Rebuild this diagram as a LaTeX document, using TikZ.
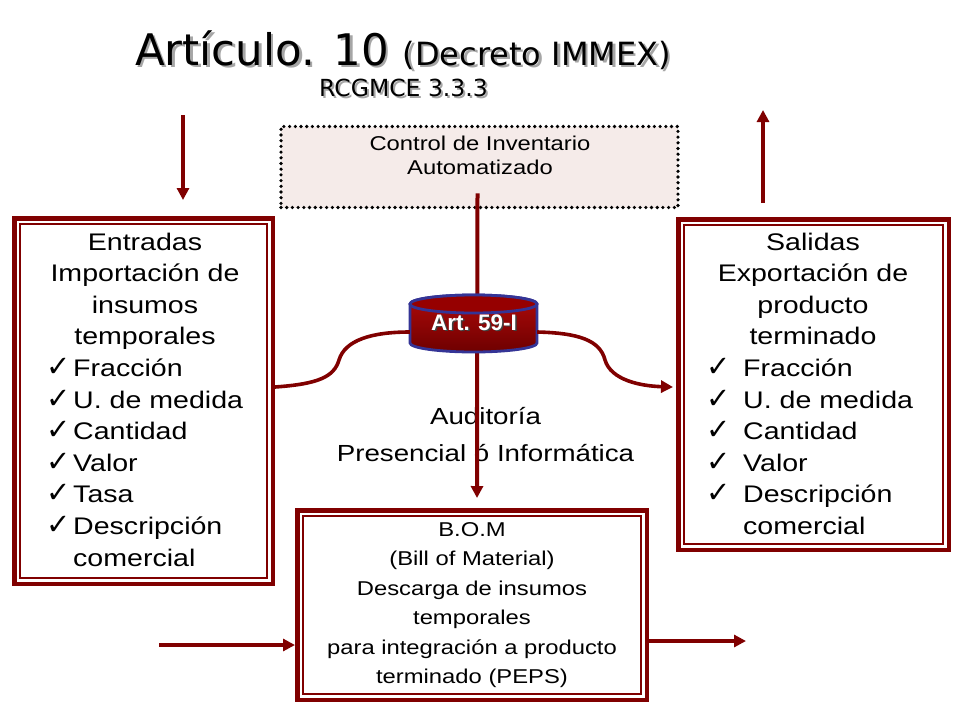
\documentclass[tikz,border=0pt]{standalone}
\usepackage{fontspec}
\setmainfont{Liberation Sans}[FakeStretch=1.19]
\newfontfamily\titlefont{DejaVu Sans}
\newfontfamily\checkfont{DejaVu Sans}
\newfontfamily\artfont{Liberation Sans}
\usetikzlibrary{arrows.meta}
\definecolor{framered}{RGB}{128,0,0}
\definecolor{dotfill}{RGB}{245,235,233}
\definecolor{cylblue}{RGB}{52,52,150}
\definecolor{cyltop}{RGB}{150,0,0}
\definecolor{cylbodyA}{RGB}{175,10,10}
\definecolor{cylbodyB}{RGB}{110,0,0}
\tikzset{
  dframe/.style={draw=framered, line width=4.5pt, inner sep=0pt, fill=white},
  innerframe/.style={draw=framered, line width=1.4pt},
  dotbox/.style={draw=black, line width=3.6pt, dash pattern=on 0pt off 5.7pt, line cap=round, fill=dotfill, inner sep=0pt},
  bigtxt/.style={anchor=base, inner sep=0pt, font=\fontsize{24}{24}\selectfont},
  midtxt/.style={anchor=base, inner sep=0pt, font=\fontsize{23.3}{24}\selectfont},
  smalltxt/.style={anchor=base, inner sep=0pt, font=\fontsize{20}{20}\selectfont},
  chk/.style={anchor=base west, inner sep=0pt, font=\checkfont\fontsize{29}{29}\selectfont},
  tip/.style={-{Triangle[length=12pt,width=12pt]}},
  arr/.style={draw=framered, line width=4pt, tip},
  curve/.style={draw=framered, line width=3.6pt},
}
\begin{document}
\begin{tikzpicture}[x=1pt,y=-1pt]
\useasboundingbox[fill=white] (0,0) rectangle (960,720);

% title
\node[anchor=base west, inner sep=0pt, text=black!35, font=\titlefont\fontsize{43.5}{44}\selectfont] (t1s) at (137.5,67.5) {Artículo. 10 {\fontsize{32}{32}\selectfont (Decreto IMMEX)}};
\node[anchor=base west, inner sep=0pt, font=\titlefont\fontsize{43.5}{44}\selectfont] (t1) at (135,65) {Artículo. 10 {\fontsize{32}{32}\selectfont (Decreto IMMEX)}};
\node[anchor=base, inner sep=0pt, text=black!35, font=\titlefont\fontsize{23.5}{24}\selectfont] (t2s) at (405.5,98) {RCGMCE 3.3.3};
\node[anchor=base, inner sep=0pt, font=\titlefont\fontsize{23.5}{24}\selectfont] (t2) at (403.5,96) {RCGMCE 3.3.3};

% boxes
\node[dframe, minimum width=258.5pt, minimum height=365.5pt] (LB) at (143.5,401) {};
\draw[innerframe] ([shift={(8,8)}]LB.north west) rectangle ([shift={(-8,-8)}]LB.south east);
\node[dframe, minimum width=270.5pt, minimum height=330.5pt] (RB) at (813.5,384.5) {};
\draw[innerframe] ([shift={(8,8)}]RB.north west) rectangle ([shift={(-8,-8)}]RB.south east);
\node[dframe, minimum width=349.5pt, minimum height=189.5pt] (BOM) at (472,605) {};
\draw[innerframe] ([shift={(8,8)}]BOM.north west) rectangle ([shift={(-8,-8)}]BOM.south east);
\node[dotbox, minimum width=397pt, minimum height=81pt] (CB) at (479.5,167) {};

% texts of dotted box
\node[smalltxt] (cb1) at (480,150) {Control de Inventario};
\node[smalltxt] (cb2) at (480,174.5) {Automatizado};

% left box texts
\foreach \t [count=\i] in {Entradas,Importación de,insumos,temporales}
  \node[bigtxt] (lh\i) at (145,{250+31.6*(\i-1)}) {\t};
\foreach \t [count=\i] in {Fracción,U. de medida,Cantidad,Valor,Tasa,Descripción}{
  \node[bigtxt, anchor=base west] (li\i) at (73,{376.4+31.6*(\i-1)}) {\t};
  \node[chk] (lc\i) at (46,{376.4+31.6*(\i-1)}) {✓};
}
\node[bigtxt, anchor=base west] (li7) at (73,566) {comercial};

% right box texts
\foreach \t [count=\i] in {Salidas,Exportación de,producto,terminado}
  \node[bigtxt] (rh\i) at (813,{250+31.6*(\i-1)}) {\t};
\foreach \t [count=\i] in {Fracción,U. de medida,Cantidad,Valor,Descripción}{
  \node[bigtxt, anchor=base west] (ri\i) at (743,{376.4+31.6*(\i-1)}) {\t};
  \node[chk] (rc\i) at (706,{376.4+31.6*(\i-1)}) {✓};
}
\node[bigtxt, anchor=base west] (ri6) at (743,534.4) {comercial};

% BOM texts
\foreach \t [count=\i] in {B.O.M,(Bill of Material),Descarga de insumos,temporales,para integración a producto,terminado (PEPS)}
  \node[smalltxt] (bt\i) at (472,{536+29.5*(\i-1)}) {\t};

% Auditoria
\node[midtxt] (au1) at (485.5,424.3) {Auditoría};
\node[midtxt] (au2) at (485.5,461) {Presencial ó Informática};

% cylinder anchor node
\node[inner sep=0pt, minimum width=127pt, minimum height=60pt] (cyl) at (473.5,322) {};

% vertical connector (behind cylinder)
\draw[arr] ([shift={(-2,-16)}]CB.south) -- ([shift={(5,-10)}]BOM.north);

% cylinder
\shade[top color=cylbodyA, bottom color=cylbodyB] (410,304) -- (410,343) arc[start angle=180,end angle=0,x radius=63.5,y radius=9] -- (537,304) arc[start angle=0,end angle=-180,x radius=63.5,y radius=9] -- cycle;
\draw[cylblue, line width=2.8pt] (410,304) -- (410,343) arc[start angle=180,end angle=0,x radius=63.5,y radius=9] -- (537,304) arc[start angle=0,end angle=-180,x radius=63.5,y radius=9] -- cycle;
\draw[cylblue, line width=2.8pt, fill=cyltop] (473.5,304) ellipse[x radius=63.5,y radius=9];
\node[anchor=base, inner sep=0pt, text=black!75, font=\artfont\bfseries\fontsize{22.5}{22}\selectfont] (arts) at (475.5,331.5) {Art. 59-I};
\node[anchor=base, inner sep=0pt, text=white, font=\artfont\bfseries\fontsize{22.5}{22}\selectfont] (art) at (474,330) {Art. 59-I};

% curves
\draw[curve] ([shift={(0,-14)}]LB.east) .. controls (318,384) and (334,377) .. (339,360) .. controls (345,340) and (372,332) .. ([shift={(0,10)}]cyl.west);
\draw[curve, tip] ([shift={(0,10)}]cyl.east) .. controls (578,333) and (600,340) .. (605,360) .. controls (611,380) and (640,386) .. ([shift={(-3,2.5)}]RB.west);

% straight arrows
\coordinate (tl) at (183,115);
\draw[arr, shorten >=16pt] (tl) -- (tl |- LB.north);
\coordinate (tr) at (763,110);
\draw[arr, shorten <=14pt] (tr |- RB.north) -- (tr);
\coordinate (bl) at (159,645);
\draw[arr] (bl) -- (bl -| BOM.west);
\coordinate (br) at (746,641);
\draw[arr] (br -| BOM.east) -- (br);
\end{tikzpicture}
\end{document}
